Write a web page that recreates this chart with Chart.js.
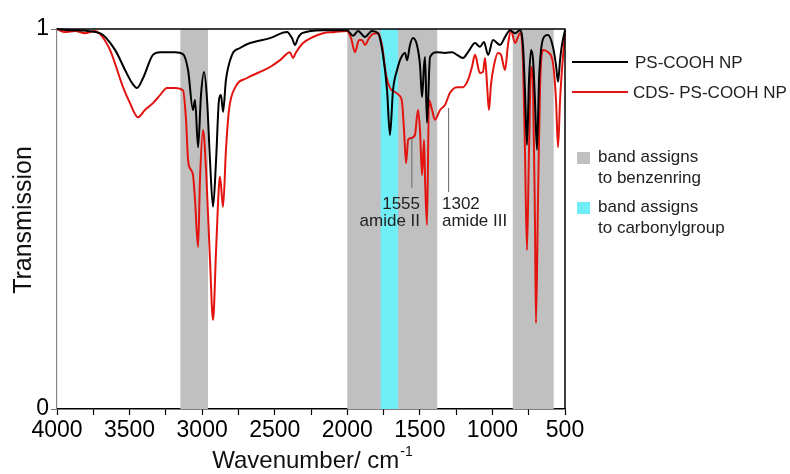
<!DOCTYPE html>
<html>
<head>
<meta charset="utf-8">
<script src="https://cdn.jsdelivr.net/npm/chart.js@4/dist/chart.umd.min.js"></script>
<style>
  html, body { margin: 0; padding: 0; background: #fff; }
  #wrap { width: 790px; height: 474px; }
</style>
</head>
<body>
<div id="wrap"><canvas id="ftir" width="790" height="474"></canvas></div>
<script>
// wavenumbers (cm-1) and transmission
var wnBlack = [4000, 3910, 3704, 3600, 3531, 3483, 3449, 3407, 3339, 3290, 3187, 3132, 3097, 3063, 3049, 3028, 3008, 2987, 2966, 2946, 2925, 2904, 2884, 2870, 2856, 2836, 2794, 2739, 2670, 2532, 2415, 2381, 2360, 2340, 2312, 2167, 2002, 1960, 1926, 1878, 1830, 1788, 1754, 1726, 1706, 1685, 1657, 1630, 1602, 1588, 1568, 1547, 1520, 1499, 1485, 1471, 1464, 1451, 1430, 1382, 1327, 1278, 1244, 1203, 1168, 1120, 1086, 1058, 1030, 996, 948, 913, 879, 844, 810, 789, 776, 762, 748, 734, 720, 707, 693, 679, 665, 645, 617, 583, 562, 548, 534, 521, 500];
var tBlack = [1.000, 0.997, 0.989, 0.945, 0.892, 0.858, 0.845, 0.871, 0.932, 0.939, 0.939, 0.934, 0.892, 0.787, 0.813, 0.689, 0.826, 0.887, 0.813, 0.655, 0.532, 0.655, 0.813, 0.826, 0.782, 0.866, 0.932, 0.950, 0.963, 0.976, 0.992, 0.976, 0.958, 0.976, 0.989, 0.997, 0.997, 0.982, 0.995, 0.979, 0.995, 0.989, 0.932, 0.839, 0.721, 0.839, 0.892, 0.924, 0.937, 0.918, 0.958, 0.976, 0.958, 0.905, 0.821, 0.905, 0.926, 0.753, 0.926, 0.939, 0.937, 0.939, 0.932, 0.924, 0.939, 0.963, 0.953, 0.966, 0.932, 0.971, 0.958, 0.979, 0.997, 0.989, 0.997, 0.953, 0.839, 0.695, 0.866, 0.945, 0.918, 0.813, 0.682, 0.866, 0.945, 0.979, 0.984, 0.953, 0.905, 0.861, 0.918, 0.958, 0.997];

var wnRed = [4000, 3945, 3876, 3807, 3738, 3704, 3635, 3545, 3497, 3442, 3394, 3339, 3290, 3242, 3187, 3132, 3111, 3097, 3077, 3063, 3049, 3028, 3015, 2994, 2973, 2946, 2925, 2904, 2884, 2877, 2856, 2836, 2815, 2774, 2691, 2601, 2532, 2463, 2395, 2374, 2353, 2305, 2236, 2167, 2085, 2002, 1974, 1947, 1919, 1899, 1878, 1850, 1823, 1788, 1761, 1733, 1706, 1671, 1644, 1623, 1609, 1595, 1581, 1561, 1534, 1513, 1499, 1485, 1471, 1464, 1451, 1437, 1416, 1396, 1361, 1327, 1292, 1244, 1203, 1168, 1141, 1120, 1086, 1065, 1051, 1037, 1024, 1010, 989, 962, 941, 913, 893, 872, 844, 810, 789, 776, 762, 748, 734, 720, 707, 700, 686, 672, 651, 617, 583, 562, 548, 534, 521, 500];
var tRed = [1.000, 0.992, 0.995, 0.989, 0.995, 0.987, 0.945, 0.847, 0.805, 0.768, 0.787, 0.805, 0.826, 0.845, 0.845, 0.839, 0.761, 0.655, 0.629, 0.616, 0.550, 0.426, 0.603, 0.734, 0.629, 0.392, 0.234, 0.418, 0.589, 0.611, 0.532, 0.682, 0.787, 0.845, 0.871, 0.887, 0.900, 0.918, 0.939, 0.924, 0.939, 0.963, 0.979, 0.989, 0.992, 0.995, 0.976, 0.939, 0.971, 0.971, 0.958, 0.976, 0.987, 0.989, 0.958, 0.879, 0.845, 0.834, 0.826, 0.808, 0.734, 0.647, 0.708, 0.713, 0.721, 0.787, 0.734, 0.616, 0.708, 0.603, 0.484, 0.813, 0.787, 0.761, 0.787, 0.800, 0.832, 0.847, 0.847, 0.866, 0.900, 0.932, 0.884, 0.887, 0.924, 0.853, 0.787, 0.853, 0.905, 0.937, 0.932, 0.892, 0.958, 0.997, 0.963, 0.989, 0.911, 0.682, 0.418, 0.682, 0.900, 0.847, 0.497, 0.226, 0.550, 0.847, 0.945, 0.939, 0.911, 0.813, 0.689, 0.813, 0.892, 0.989];

var benzeneBands = [[3150, 2960], [2000, 1380], [860, 578]];
var carbonylBands = [[1770, 1650]];
var xTicks = [4000, 3500, 3000, 2500, 2000, 1500, 1000, 500];
var yTicks = [0, 1];

var FONT = '"Liberation Sans", Arial, sans-serif';
var GRAY = '#c0c0c0';
var CYAN = '#70eef6';
var RED = '#e3140f';

function pts(xs, ys) {
  return xs.map(function(x, i) { return {x: x, y: ys[i]}; });
}

var bands = {
  id: 'bands',
  beforeDatasetsDraw: function(chart) {
    var ctx = chart.ctx, a = chart.chartArea, x = chart.scales.x;
    ctx.save();
    ctx.fillStyle = GRAY;
    benzeneBands.forEach(function(b) {
      var x1 = x.getPixelForValue(b[0]), x2 = x.getPixelForValue(b[1]);
      ctx.fillRect(x1, a.top, x2 - x1, a.bottom - a.top);
    });
    ctx.fillStyle = CYAN;
    carbonylBands.forEach(function(b) {
      var x1 = x.getPixelForValue(b[0]), x2 = x.getPixelForValue(b[1]);
      ctx.fillRect(x1, a.top, x2 - x1, a.bottom - a.top);
    });
    ctx.restore();
  }
};

var extras = {
  id: 'extras',
  afterDraw: function(chart) {
    var ctx = chart.ctx, a = chart.chartArea, x = chart.scales.x, y = chart.scales.y;
    ctx.save();
    // frame: top and right
    ctx.strokeStyle = '#000';
    ctx.lineWidth = 1.5;
    ctx.beginPath();
    ctx.moveTo(a.left, a.top);
    ctx.lineTo(a.right, a.top);
    ctx.lineTo(a.right, a.bottom);
    ctx.stroke();

    // amide markers
    ctx.strokeStyle = '#666';
    ctx.lineWidth = 1;
    ctx.beginPath();
    ctx.moveTo(x.getPixelForValue(1555), y.getPixelForValue(0.713));
    ctx.lineTo(x.getPixelForValue(1555), y.getPixelForValue(0.582));
    ctx.moveTo(x.getPixelForValue(1302), y.getPixelForValue(0.792));
    ctx.lineTo(x.getPixelForValue(1302), y.getPixelForValue(0.571));
    ctx.stroke();

    ctx.fillStyle = '#222';
    ctx.font = '17px ' + FONT;
    ctx.textBaseline = 'middle';
    ctx.textAlign = 'right';
    ctx.fillText('1555', 420, 204);
    ctx.fillText('amide II', 420, 221);
    ctx.textAlign = 'left';
    ctx.fillText('1302', 442, 204);
    ctx.fillText('amide III', 442, 221);

    // legend
    ctx.lineWidth = 2;
    ctx.strokeStyle = '#000';
    ctx.beginPath(); ctx.moveTo(572, 62); ctx.lineTo(628, 62); ctx.stroke();
    ctx.strokeStyle = RED;
    ctx.beginPath(); ctx.moveTo(572, 92); ctx.lineTo(628, 92); ctx.stroke();
    ctx.font = '17px ' + FONT;
    ctx.fillText('PS-COOH NP', 635, 63);
    ctx.fillText('CDS- PS-COOH NP', 633, 93);

    ctx.fillStyle = GRAY;
    ctx.fillRect(577, 152, 13, 12);
    ctx.fillStyle = CYAN;
    ctx.fillRect(577, 202, 13, 12);
    ctx.fillStyle = '#222';
    ctx.font = '17px ' + FONT;
    ctx.fillText('band assigns', 598, 157);
    ctx.fillText('to benzenring', 598, 178);
    ctx.fillText('band assigns', 598, 207);
    ctx.fillText('to carbonylgroup', 598, 228);

    // axis titles
    ctx.fillStyle = '#111';
    var main = 'Wavenumber/ cm';
    ctx.font = '24px ' + FONT;
    var w1 = ctx.measureText(main).width;
    ctx.font = '14px ' + FONT;
    var w2 = ctx.measureText('-1').width;
    var sx = 312 - (w1 + w2) / 2;
    ctx.font = '24px ' + FONT;
    ctx.textAlign = 'left';
    ctx.fillText(main, sx, 461);
    ctx.font = '14px ' + FONT;
    ctx.fillText('-1', sx + w1 + 1, 452);

    ctx.translate(24, 220);
    ctx.rotate(-Math.PI / 2);
    ctx.textAlign = 'center';
    ctx.font = '25px ' + FONT;
    ctx.fillText('Transmission', 0, 0);
    ctx.restore();
  }
};

new Chart(document.getElementById('ftir'), {
  type: 'line',
  data: {
    datasets: [{
      label: 'PS-COOH NP',
      data: pts(wnBlack, tBlack),
      borderColor: '#000',
      borderWidth: 2,
      pointRadius: 0,
      cubicInterpolationMode: 'monotone',
      clip: 3
    }, {
      label: 'CDS- PS-COOH NP',
      data: pts(wnRed, tRed),
      borderColor: RED,
      borderWidth: 2,
      pointRadius: 0,
      cubicInterpolationMode: 'monotone',
      clip: 3
    }]
  },
  options: {
    responsive: false,
    animation: false,
    events: [],
    layout: { padding: { top: 29, right: 225, left: 0, bottom: 0 } },
    plugins: { legend: { display: false }, tooltip: { enabled: false } },
    scales: {
      x: {
        type: 'linear',
        reverse: true,
        min: 500,
        max: 4000,
        afterFit: function(s) { s.height = 65; },
        afterBuildTicks: function(s) {
          var t = [];
          for (var v = 500; v <= 4000; v += 250) t.push({value: v});
          s.ticks = t;
        },
        ticks: {
          autoSkip: false,
          maxRotation: 0,
          padding: 2,
          color: '#000',
          font: { family: FONT, size: 23 },
          callback: function(v) { return xTicks.indexOf(v) >= 0 ? String(v) : ''; }
        },
        grid: { drawOnChartArea: false, tickLength: 6, tickColor: '#000', tickWidth: 1.2 },
        border: { color: '#000', width: 1.5 }
      },
      y: {
        min: 0,
        max: 1,
        afterFit: function(s) { s.width = 57; },
        afterBuildTicks: function(s) {
          s.ticks = yTicks.map(function(v) { return {value: v}; });
        },
        ticks: {
          padding: 2,
          color: '#000',
          font: { family: FONT, size: 23 }
        },
        grid: { drawOnChartArea: false, tickLength: 6, tickColor: '#777' },
        border: { color: '#888', width: 1.2 }
      }
    }
  },
  plugins: [bands, extras]
});
</script>
</body>
</html>
